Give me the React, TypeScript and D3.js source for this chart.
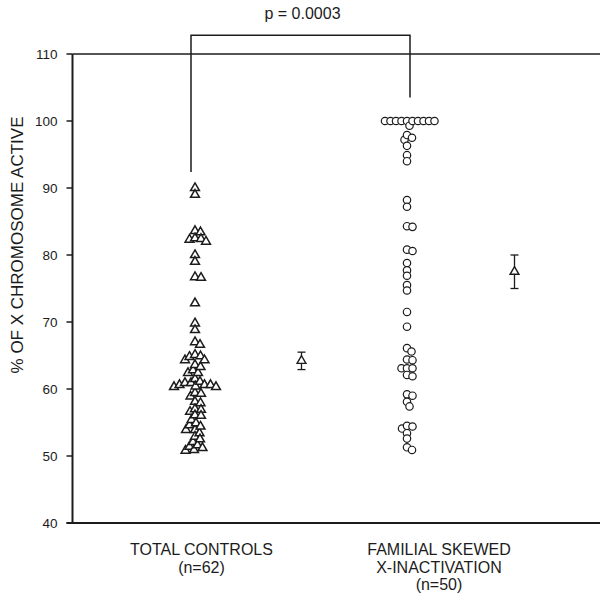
import React from 'react';
import * as d3 from 'd3';

// ---------- data ----------
const groupLabelLines: string[][] = [
  ['TOTAL CONTROLS', '(n=62)'],
  ['FAMILIAL SKEWED', 'X-INACTIVATION', '(n=50)'],
];

const controls = [
  90.0, 89.0, 83.6, 83.4, 82.5, 82.4, 82.3, 82.0, 80.0, 79.0, 76.7, 76.6, 72.8,
  69.8, 68.8, 67.0, 66.6, 65.1, 64.9, 64.8, 64.3, 64.3, 63.6, 63.3, 62.8, 62.4,
  62.4, 61.5, 61.1, 60.9, 60.9, 60.6, 60.6, 60.6, 60.4, 60.3, 60.3, 59.4, 59.3,
  58.9, 58.1, 57.9, 57.0, 56.9, 56.6, 56.1, 56.0, 55.4, 54.9, 54.6, 54.4, 53.9,
  53.9, 53.4, 52.9, 52.5, 52.1, 51.6, 51.4, 51.2, 50.9, 50.8,
];

const familial = [
  100, 100, 100, 100, 100, 100, 100, 100, 100, 100, 99.3, 97.9, 97.5, 97.2, 96.3,
  94.9, 94.0, 88.2, 87.2, 84.3, 84.2, 80.8, 80.6, 78.8, 77.7, 76.9, 75.5, 74.7,
  71.5, 69.3, 66.1, 65.6, 64.4, 64.3, 63.1, 63.1, 63.1, 62.1, 61.9, 59.2, 59.0,
  58.1, 57.4, 54.5, 54.4, 54.1, 53.4, 52.6, 51.3, 50.9,
];

const groupMeans = [64.2, 77.5];
const groupSEM = [1.3, 2.5];

const yTicks = [40, 50, 60, 70, 80, 90, 100, 110];
const yTitle = '% OF X CHROMOSOME ACTIVE';
const pLabel = 'p = 0.0003';
const bracketTop = 112.8;
const bracketEnds = [92.4, 103.5];

// ---------- layout ----------
const W = 600;
const H = 594;
const FONT = '"Liberation Sans", Arial, Helvetica, sans-serif';
const INK = '#1c1c1c';

const y = d3.scaleLinear().domain([40, 110]).range([523, 54]);
const x = d3.scaleLinear().domain([0, 4]).range([88.5, 514.5]);
const axisX = 72.5;

// deterministic beeswarm: nearest free horizontal offset
function swarm(values: number[], cx: number, minDist: number) {
  const placed: { x: number; y: number; v: number }[] = [];
  values.forEach((v) => {
    const py = y(v);
    let k = 0;
    while (true) {
      const off = k === 0 ? 0 : (k % 2 === 1 ? 1 : -1) * Math.ceil(k / 2) * 0.5;
      const px = cx + off;
      const ok = placed.every((p) => (p.x - px) ** 2 + (p.y - py) ** 2 >= minDist * minDist);
      if (ok) {
        placed.push({ x: px, y: py, v });
        break;
      }
      k++;
    }
  });
  return placed.sort((a, b) => a.x - b.x);
}

const tri = d3.symbol().type(d3.symbolTriangle).size(34)();

export default function App() {
  const ctrlPts = swarm(controls, x(1), 5.6);
  const famPts = swarm(familial, x(3) - 1, 5.3);

  return (
    <svg
      width={W}
      height={H}
      style={{ position: 'absolute', left: 0, top: 0, background: '#fff' }}
      fontFamily={FONT}
    >
      {/* frame lines */}
      <line x1={axisX} x2={W} y1={y(110)} y2={y(110)} stroke={INK} strokeWidth={1.4} />
      <line x1={axisX - 6} x2={W} y1={y(40)} y2={y(40)} stroke={INK} strokeWidth={2} />
      <line x1={axisX} x2={axisX} y1={y(110)} y2={y(40)} stroke={INK} strokeWidth={2} />

      {/* y ticks */}
      {yTicks.map((t) => (
        <g key={t}>
          <line x1={axisX - 6} x2={axisX} y1={y(t)} y2={y(t)} stroke={INK} strokeWidth={1.5} />
          <text
            x={axisX - 15}
            y={y(t)}
            dy="0.36em"
            textAnchor="end"
            fontSize={13.5}
            fill={INK}
          >
            {t}
          </text>
        </g>
      ))}

      {/* y title */}
      <text
        transform={`translate(23, ${245}) rotate(-90)`}
        textAnchor="middle"
        fontSize={17}
        fill={INK}
      >
        {yTitle}
      </text>

      {/* significance bracket */}
      <path
        d={`M${x(1) - 4},${y(bracketEnds[0])}V${y(bracketTop)}H${x(3) + 2}V${y(bracketEnds[1])}`}
        fill="none"
        stroke={INK}
        strokeWidth={1.5}
      />
      <text x={(x(1) + x(3)) / 2 + 1} y={19} textAnchor="middle" fontSize={16} fill={INK}>
        {pLabel}
      </text>

      {/* controls: triangles */}
      {ctrlPts.map((p, i) => (
        <path
          key={'c' + i}
          d={tri}
          transform={`translate(${p.x},${p.y})`}
          fill="#fff"
          stroke={INK}
          strokeWidth={1.5}
        />
      ))}

      {/* familial: circles */}
      {famPts.map((p, i) => (
        <circle
          key={'f' + i}
          cx={p.x}
          cy={p.y}
          r={3.7}
          fill="#fff"
          stroke={INK}
          strokeWidth={1.2}
        />
      ))}

      {/* means with error bars */}
      {groupMeans.map((m, i) => {
        const cx = x(2 + i * 2);
        const top = y(m + groupSEM[i]);
        const bot = y(m - groupSEM[i]);
        return (
          <g key={'m' + i} stroke={INK} strokeWidth={1.3}>
            <line x1={cx} x2={cx} y1={top} y2={bot} />
            <line x1={cx - 4} x2={cx + 4} y1={top} y2={top} />
            <line x1={cx - 4} x2={cx + 4} y1={bot} y2={bot} />
            <path d={tri} transform={`translate(${cx},${y(m)})`} fill="#fff" strokeWidth={1.4} />
          </g>
        );
      })}

      {/* category labels */}
      {groupLabelLines.map((lines, i) => (
        <text
          key={'g' + i}
          x={i === 0 ? x(1) + 6.5 : x(3) + 31}
          y={555}
          textAnchor="middle"
          fontSize={16}
          fill={INK}
        >
          {lines.map((l, j) => (
            <tspan key={j} x={i === 0 ? x(1) + 6.5 : x(3) + 31} dy={j === 0 ? 0 : 17.5}>
              {l}
            </tspan>
          ))}
        </text>
      ))}
    </svg>
  );
}
